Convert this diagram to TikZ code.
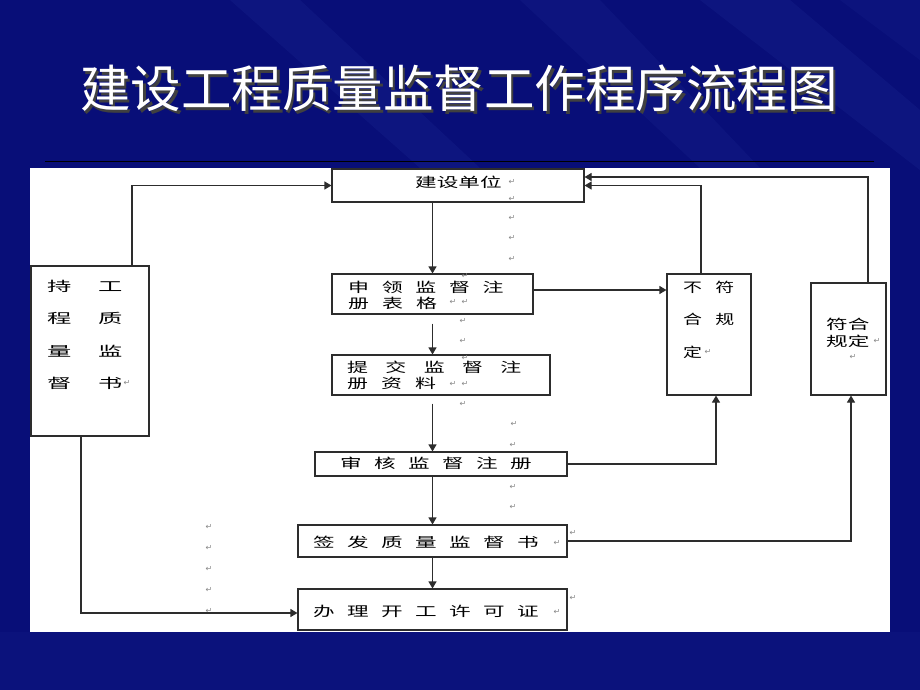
\documentclass[tikz,border=0pt]{standalone}
\usepackage{fontspec}
\newfontfamily\cjk{Noto Sans CJK SC}
\newfontfamily\djv{DejaVu Sans}
\usetikzlibrary{arrows.meta}
\definecolor{navy}{RGB}{8,14,120}
\definecolor{streak}{RGB}{50,70,175}
\definecolor{ln}{RGB}{45,45,45}
\definecolor{pm}{RGB}{135,135,135}
\newcommand\g[1]{\hspace{#1pt}}
\newcommand\ttltext{建设工程质量监督工作程序流程图}
\begin{document}
\begin{tikzpicture}[x=1pt,y=-1pt,
  box/.style={draw=ln, line width=1.1pt, fill=white, rectangle, inner sep=0pt},
  arr/.style={draw=ln, line width=1.1pt, -{Triangle[length=7pt,width=8pt]}},
  txt/.style={font=\cjk\fontsize{13.5}{15}\selectfont, inner sep=0pt, anchor=west, text=black},
  pmk/.style={font=\djv\fontsize{8}{9}\selectfont, text=pm, inner sep=0pt},
  ttl/.style={font=\cjk\fontsize{50.5}{54}\selectfont, inner sep=0pt}]
\useasboundingbox (0,0) rectangle (920,690);
% background
\fill[navy] (0,0) rectangle (920,690);
\fill[streak, opacity=0.14] (230,0) -- (300,0) -- (480,168) -- (420,168) -- cycle;
\fill[streak, opacity=0.12] (520,0) -- (600,0) -- (760,168) -- (700,168) -- cycle;
\fill[streak, opacity=0.14] (700,0) -- (790,0) -- (920,110) -- (920,170) -- cycle;
\fill[streak, opacity=0.10] (840,0) -- (920,0) -- (920,60) -- cycle;
\fill[streak, opacity=0.08] (0,632) rectangle (920,690);
% title (with shadow inside the same node)
\node[ttl, text=white] (title) at (459,90)
  {\rlap{\hspace{2.5pt}\raisebox{-2.5pt}{\textcolor{black!75}{\ttltext}}}\ttltext};
% panel
\draw[black, line width=1pt] (45,161) -- (874,161);
\fill[white] (30,168) rectangle (890,632);
% boxes
\node[box, minimum width=252pt, minimum height=33pt] (js) at (458,185.5) {};
\node[box, minimum width=201pt, minimum height=40pt] (sl) at (432.5,294) {};
\node[box, minimum width=218pt, minimum height=40pt] (tj) at (441,375) {};
\node[box, minimum width=252pt, minimum height=24pt] (sh) at (441,464) {};
\node[box, minimum width=269pt, minimum height=32pt] (qf) at (432.5,541) {};
\node[box, minimum width=269pt, minimum height=41pt] (bl) at (432.5,609.5) {};
\node[box, minimum width=118pt, minimum height=170pt] (chi) at (90,351) {};
\node[box, minimum width=84pt, minimum height=121pt] (bf) at (709,334.5) {};
\node[box, minimum width=75pt, minimum height=112pt] (fh) at (848.5,339) {};
% connectors
\coordinate (c2) at ([yshift=-9pt]sl.south);
\coordinate (c3) at ([yshift=-8pt]tj.south);
\coordinate (c4) at ([yshift=4pt]sl.east);
\draw[arr] (js.south -| sl.north) -- (sl.north);
\draw[arr] (c2) -- (tj.north -| c2);
\draw[arr] (c3 -| sl.south) -- (sh.north -| sl.south);
\draw[arr] (sh.south -| qf.north) -- (qf.north);
\draw[arr] (qf.south) -- (bl.north);
\draw[arr] (c4) -- (c4 -| bf.west);
\draw[arr] (sh.east) -| ([xshift=7pt]bf.south);
\draw[arr] (qf.east) -| ([xshift=2.5pt]fh.south);
\draw[arr] ([xshift=-8pt]bf.north) |- (js.east);
\draw[arr] ([xshift=19.5pt]fh.north) |- ([yshift=8.5pt]js.east);
\draw[arr] ([xshift=42pt]chi.north) |- (js.west);
\draw[arr] ([xshift=-9pt]chi.south) |- ([yshift=-3.5pt]bl.west);
% texts
\node[txt] (t1) at (415,182) {\scalebox{1.6}[1]{建设单位}};
\node[txt] (t2a) at (348,287) {\scalebox{1.55}[1]{申\g{8.2}领\g{8.2}监\g{8.2}督\g{8.2}注}};
\node[txt] (t2b) at (348,303) {\scalebox{1.55}[1]{册\g{8.4}表\g{8.4}格}};
\node[txt] (t3a) at (347,367) {\scalebox{1.55}[1]{提\g{11.2}交\g{11.2}监\g{11.2}督\g{11.2}注}};
\node[txt] (t3b) at (347,383) {\scalebox{1.55}[1]{册\g{8.4}资\g{8.4}料}};
\node[txt] (t4) at (340,463) {\scalebox{1.6}[1]{审\g{7.75}核\g{7.75}监\g{7.75}督\g{7.75}注\g{7.75}册}};
\node[txt] (t5) at (313,542) {\scalebox{1.6}[1]{签\g{7.75}发\g{7.75}质\g{7.75}量\g{7.75}监\g{7.75}督\g{7.75}书}};
\node[txt] (t6) at (313,611) {\scalebox{1.6}[1]{办\g{7.75}理\g{7.75}开\g{7.75}工\g{7.75}许\g{7.75}可\g{7.75}证}};
\node[txt] (l1) at (47,286) {\scalebox{1.8}[1]{持\g{14.8}工}};
\node[txt] (l2) at (47,318) {\scalebox{1.8}[1]{程\g{14.8}质}};
\node[txt] (l3) at (47,351) {\scalebox{1.8}[1]{量\g{14.8}监}};
\node[txt] (l4) at (47,383) {\scalebox{1.8}[1]{督\g{14.8}书}};
\node[txt] (b1) at (683,287) {\scalebox{1.4}[1]{不\g{9.4}符}};
\node[txt] (b2) at (683,319) {\scalebox{1.4}[1]{合\g{9.4}规}};
\node[txt] (b3) at (683,352) {\scalebox{1.4}[1]{定}};
\node[txt] (f1) at (826,324) {\scalebox{1.6}[1]{符合}};
\node[txt] (f2) at (826,341) {\scalebox{1.6}[1]{规定}};
% paragraph marks
\foreach [count=\i] \x/\y in {512/182,512/199,512/218,512/238,512/259,
  465/276,453/302,465/302,463/321,463/341,465/357.5,453/384,465/384,463/404,
  514/424,513/445,513/487,513/507,557/543,573/533,557/612,573/598,
  209/527,209/548,209/569,209/590,209/611,127/383,708/352,877/341,853/357}
  \node[pmk] (p\i) at (\x,\y) {↵};
\end{tikzpicture}
\end{document}
